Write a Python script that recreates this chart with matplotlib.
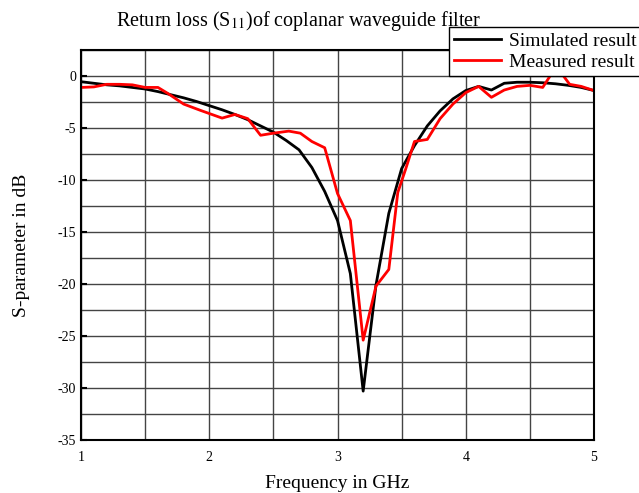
import numpy as np
import matplotlib
matplotlib.use("Agg")
from matplotlib import pyplot as plt

# simulated S11 (black)
f_sim = [1.0, 1.1, 1.2, 1.3, 1.4, 1.5, 1.6, 1.7, 1.8, 1.9, 2.0, 2.1, 2.2, 2.3, 2.4,
         2.5, 2.6, 2.7, 2.8, 2.9, 3.0, 3.1, 3.2, 3.3, 3.4, 3.5, 3.6, 3.7, 3.8, 3.9,
         4.0, 4.1, 4.2, 4.3, 4.4, 4.5, 4.6, 4.7, 4.8, 4.9, 5.0]
s_sim = [-0.55, -0.7, -0.85, -0.95, -1.1, -1.25, -1.5, -1.8, -2.1, -2.45, -2.85, -3.25, -3.7, -4.2, -4.8,
         -5.4, -6.2, -7.1, -8.8, -11.1, -13.9, -19.0, -30.3, -20.1, -13.2, -8.9, -6.7, -4.8, -3.35, -2.2,
         -1.4, -1.0, -1.35, -0.7, -0.6, -0.6, -0.65, -0.75, -0.9, -1.1, -1.4]

# measured S11 (red)
f_meas = [1.0, 1.1, 1.2, 1.3, 1.4, 1.5, 1.6, 1.68, 1.8, 1.93, 2.1, 2.2, 2.3, 2.4, 2.5,
          2.62, 2.71, 2.8, 2.9, 3.0, 3.1, 3.2, 3.3, 3.4, 3.47, 3.53, 3.6, 3.7, 3.8, 3.9,
          4.0, 4.1, 4.2, 4.3, 4.4, 4.5, 4.6, 4.66, 4.75, 4.81, 4.9, 5.0]
s_meas = [-1.1, -1.05, -0.8, -0.8, -0.85, -1.1, -1.1, -1.7, -2.7, -3.3, -4.05, -3.7, -4.1, -5.7, -5.5,
          -5.3, -5.5, -6.3, -6.9, -11.3, -13.9, -25.4, -20.2, -18.6, -11.2, -9.0, -6.3, -6.1, -4.1, -2.7,
          -1.6, -1.0, -2.05, -1.35, -1.0, -0.9, -1.1, 0.05, 0.2, -0.8, -1.0, -1.4]

plt.rcParams['font.family'] = ['Liberation Serif', 'DejaVu Serif']
plt.rcParams['mathtext.fontset'] = 'stix'
plt.rcParams['axes.unicode_minus'] = False

fig = plt.figure(figsize=(6.39, 4.93), dpi=100)
ax = fig.add_axes([0.1268, 0.1075, 0.8028, 0.7911])

ax.plot(f_sim, s_sim, color='black', lw=2, label='Simulated result')
ax.plot(f_meas, s_meas, color='red', lw=2, label='Measured result')

ax.set_xlim(1, 5)
ax.set_ylim(-35, 2.5)
ax.set_xticks([1, 2, 3, 4, 5])
ax.set_xticks(np.arange(1, 5.01, 0.5), minor=True)
ax.set_yticks(np.arange(-35, 0.1, 5))
ax.set_yticks(np.arange(-35, 2.6, 2.5), minor=True)
ax.grid(True, which='both', color='#444444', lw=1)
ax.set_axisbelow(True)
ax.tick_params(which='both', direction='in', length=0, labelsize=10)
ax.tick_params(axis='y', which='major', length=4, width=1.5)
ax.tick_params(axis='x', pad=8)
for s in ax.spines.values():
    s.set_linewidth(1.5)

fig.text(0.527, 0.02, 'Frequency in GHz', ha='center', va='center', fontsize=14)
ax.set_ylabel('S-parameter in dB', fontsize=14, labelpad=20)
fig.text(0.468, 0.958, r'Return loss (S$_{11}$)of coplanar waveguide filter',
         ha='center', va='center', fontsize=14.5)

leg = fig.legend(loc='upper left', bbox_to_anchor=(0.703, 0.945), fontsize=14,
                 frameon=True, fancybox=False, edgecolor='black', framealpha=1,
                 borderpad=0.25, labelspacing=0.2, handlelength=2.4, handletextpad=0.4,
                 borderaxespad=0)
leg.get_frame().set_linewidth(1)

fig.savefig('out.png', dpi=100)
